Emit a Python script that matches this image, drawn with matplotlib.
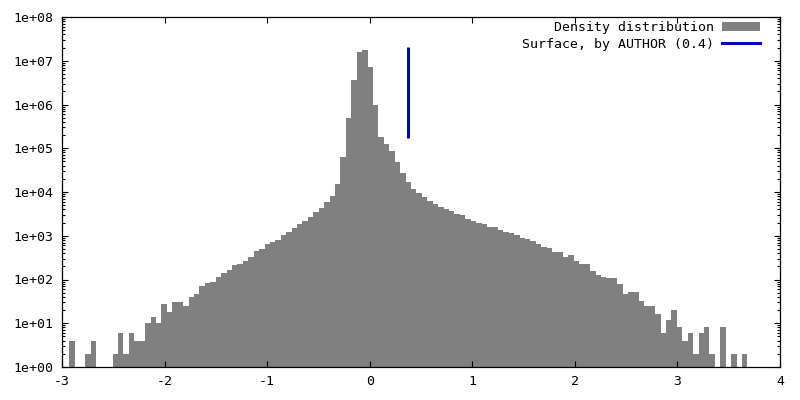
import numpy as np
import matplotlib
matplotlib.use("Agg")
import matplotlib.pyplot as plt
from matplotlib.ticker import FixedLocator, FuncFormatter, LogLocator, NullFormatter
from matplotlib.patches import Patch
from matplotlib.lines import Line2D

# histogram: left edge of first bin, bin width, counts per bin
bin_start = -2.93
bin_width = 0.0529
counts = [
    4, 0, 0, 2, 4, 0, 0, 0, 2, 6,
    2, 6, 4, 4, 10, 14, 10, 27, 18, 31,
    30, 25, 40, 47, 71, 83, 88, 114, 143, 165,
    214, 226, 265, 332, 448, 498, 648, 720, 813, 1040,
    1218, 1504, 1857, 2212, 2683, 3490, 4306, 5906, 8106, 15500,
    63000, 491000, 3630000, 15800000, 17600000, 7200000, 975000, 181000, 125000, 86500,
    48500, 27200, 16900, 11700, 9480, 7690, 6230, 5320, 4540, 4090,
    3680, 3140, 2980, 2415, 2173, 1955, 1857, 1585, 1585, 1353,
    1218, 1156, 1040, 889, 843, 759, 648, 553, 525, 425,
    425, 327, 363, 265, 226, 226, 156, 127, 114, 108,
    108, 79, 47, 52, 52, 32, 25, 25, 16, 6,
    12, 20, 8, 4, 6, 2, 6, 8, 2, 0,
    8, 0, 2, 0, 2,
]

# surface marker line
surface_x = 0.37
surface_y = [1.7e5, 2.1e7]

x_ticks = [-3, -2, -1, 0, 1, 2, 3, 4]
y_ticks = [10.0 ** k for k in range(0, 9)]

plt.rcParams['font.family'] = ['DejaVu Sans Mono']
plt.rcParams['font.size'] = 9.5

fig = plt.figure(figsize=(8, 4), dpi=100)
ax = fig.add_axes([0.0775, 0.0825, 0.8975, 0.875])

counts = np.array(counts, dtype=float)
lefts = bin_start + bin_width * np.arange(len(counts))
mask = counts > 0
# bars start at the bottom of the log axis (1)
ax.bar(lefts[mask], counts[mask] - 1.0, width=bin_width, align='edge',
       bottom=1.0, color='#808080', linewidth=0)

ax.plot([surface_x, surface_x], surface_y, color='#0000cc', linewidth=2.2,
        solid_capstyle='butt')

ax.set_yscale('log')
ax.set_xlim(-3, 4)
ax.set_ylim(1, 1e8)

ax.xaxis.set_major_locator(FixedLocator(x_ticks))
ax.yaxis.set_major_locator(FixedLocator(y_ticks))
ax.yaxis.set_minor_locator(LogLocator(base=10, subs=np.arange(2, 10), numticks=20))
ax.yaxis.set_minor_formatter(NullFormatter())
ax.yaxis.set_major_formatter(FuncFormatter(lambda v, p: "1e+%02d" % int(round(np.log10(v)))))
ax.xaxis.set_major_formatter(FuncFormatter(lambda v, p: "%d" % v))

ax.tick_params(which='both', direction='in', top=True, right=True, width=0.8, colors='black')
ax.tick_params(which='major', length=4.5, pad=6)
ax.tick_params(which='minor', length=2.2)
for s in ax.spines.values():
    s.set_linewidth(0.9)

handles = [Patch(facecolor='#808080', edgecolor='none'),
           Line2D([0], [0], color='#0000cc', linewidth=2.2)]
labels = ["Density distribution", "Surface, by AUTHOR (0.4)"]
ax.legend(handles, labels, loc='upper right', frameon=False, markerfirst=False,
          handlelength=2.9, handleheight=0.75, handletextpad=0.55, labelspacing=0.3,
          borderpad=0, borderaxespad=0, bbox_to_anchor=(760 / 800, 1 - 21 / 400),
          bbox_transform=fig.transFigure)

fig.savefig("out.png", dpi=100)
